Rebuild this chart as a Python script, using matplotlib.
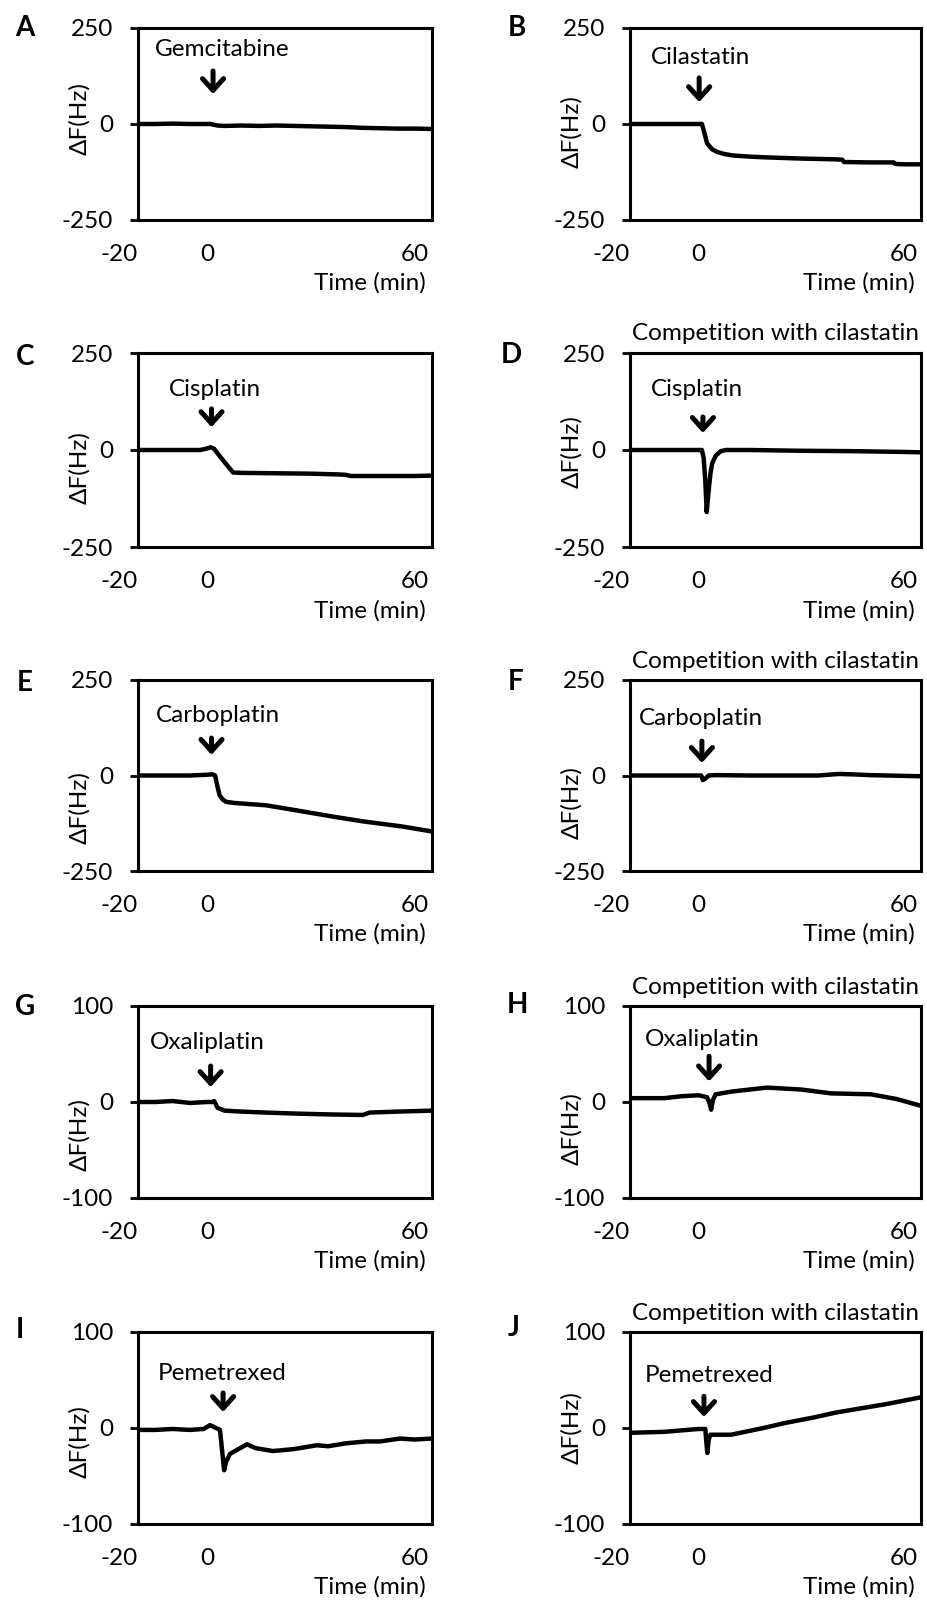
import matplotlib.pyplot as plt

plt.rcParams['font.family'] = ['Lato', 'DejaVu Sans']

# --- traces (time in min, delta F in Hz) ---
a_t = [-20, -15, -10, -5, 0, 1, 2, 3, 5, 10, 15, 20, 25, 30, 35, 40, 45, 50, 55, 60, 65]
a_df = [0, 0, 1, 0, 0, 0, -2, -4, -5, -4, -5, -4, -5, -6, -7, -8, -10, -11, -12, -12, -13]

b_t = [-20, -10, 0, 1, 1.5, 2.5, 4, 5.5, 7.5, 10, 15, 20, 30, 40, 42, 42.5, 50, 57, 57.5, 60, 65]
b_df = [0, 0, 0, 0, -15, -50, -66, -73, -78, -82, -85, -87, -90, -92, -93, -99, -100, -100, -104, -105, -105]

c_t = [-20, -10, -2, 0, 1, 2, 4, 6, 7.5, 10, 20, 30, 38, 40, 41.5, 50, 60, 65]
c_df = [0, 0, 0, 4, 7, 3, -20, -42, -58, -59, -60, -61, -63, -64, -67, -67, -67, -66]

d_t = [-20, -10, 0, 1, 1.5, 2, 2.4, 2.8, 3.5, 4, 5, 6.5, 8, 15, 30, 45, 60, 65]
d_df = [0, 0, 0, 0, -20, -80, -160, -120, -60, -35, -15, -3, 0, 0, -2, -3, -5, -6]

e_t = [-20, -10, -5, 0, 1.5, 2.3, 3, 3.6, 4.5, 5.5, 8, 17, 25, 36.6, 45, 56, 64.7]
e_df = [0, 0, 0, 2, 3, 0, -30, -52, -63, -69, -72, -78, -90, -108, -120, -133, -146]

f_t = [-20, -10, 0, 0.8, 1.3, 2, 3, 5, 15, 25, 35, 38, 41, 45, 50, 55, 60, 65]
f_df = [0, 0, 0, 0, -12, -8, 0, 1, 0, 0, 0, 2, 4, 3, 1, 0, -1, -2]

g_t = [-20, -15, -10, -5, 0, 1.5, 2, 3, 5, 10, 17, 25, 36, 45, 47, 55, 65]
g_df = [0, 0, 1, -1, 0, 0, 1, -6, -9, -10, -11, -12, -13, -13.5, -11, -10, -9]

h_t = [-20, -10, -5, 0, 2.5, 3.3, 3.7, 4.2, 5, 10, 20, 30, 38.7, 50.4, 58, 65]
h_df = [4, 4, 6, 7, 5, -2, -8, 2, 8, 11, 15, 13, 9, 8, 3, -4]

i_t = [-20, -15, -10, -5, -1, 0.8, 2, 3.7, 4.5, 4.9, 5.5, 6.6, 9, 11.5, 14, 19, 25, 31.7, 35, 40, 46, 50, 55.7, 60, 65]
i_df = [-2, -2, -1, -2, -1, 3, 1, -2, -30, -44, -35, -27, -22, -17, -21, -24, -22, -18, -19, -16, -14, -14, -11, -12, -11]

j_t = [-20, -10, 0, 2, 2.3, 2.6, 3.0, 3.5, 9.5, 19, 25, 33.7, 40, 48.3, 55, 65]
j_df = [-5, -4, -1, -1, -15, -26, -12, -7, -7, 0, 5, 11, 16, 21, 25, 32]

letters = ['A', 'B', 'C', 'D', 'E', 'F', 'G', 'H', 'I', 'J']
drugs = ['Gemcitabine', 'Cilastatin', 'Cisplatin', 'Cisplatin', 'Carboplatin',
         'Carboplatin', 'Oxaliplatin', 'Oxaliplatin', 'Pemetrexed', 'Pemetrexed']
competition = [False, False, False, True, False, True, False, True, False, True]
ymax = [250, 250, 250, 250, 250, 250, 100, 100, 100, 100]
traces = [(a_t, a_df), (b_t, b_df), (c_t, c_df), (d_t, d_df), (e_t, e_df),
          (f_t, f_df), (g_t, g_df), (h_t, h_df), (i_t, i_df), (j_t, j_df)]

# drug label (x, y) and arrow (x, top, tip) in data units
drug_pos = [(4.3, 193), (0.6, 172), (2.1, 155), (-0.4, 155), (3.0, 158),
            (0.6, 150), (0.1, 61.5), (1.0, 65), (4.3, 57), (3.1, 55)]
arrows = [(1.7, 138, 78), (0.2, 120, 57), (1.25, 106, 59), (1.3, 85, 44), (1.25, 98, 54),
          (1.0, 90, 33), (1.0, 37.5, 15.6), (3.1, 47.6, 21.5), (4.6, 36.5, 16.7), (1.6, 33, 11.5)]

# --- layout (pixels of the 928x1602 figure) ---
W, H = 928, 1602
col_left = [138, 630]
col_width = [294, 291]
row_top = [28, 353, 680, 1006, 1332]
row_bottom = [220, 547, 871, 1198, 1524]
letter_xy = [(25, 28), (517, 28), (25, 357), (511, 355), (25, 683),
             (516, 682), (25, 1007), (517, 1005), (20, 1330), (514, 1328)]
ylabel_y = [0.53, 0.46, 0.41, 0.49, 0.33, 0.36, 0.33, 0.36, 0.43, 0.50]
fs = 17.5

fig = plt.figure(figsize=(W / 100, H / 100), dpi=100)

for k in range(10):
    row, col = k // 2, k % 2
    l = col_left[col] / W
    w = col_width[col] / W
    b = 1 - row_bottom[row] / H
    h = (row_bottom[row] - row_top[row]) / H
    ax = fig.add_axes([l, b, w, h])

    t, df = traces[k]
    ax.plot(t, df, color='black', lw=3.2, solid_joinstyle='round')

    ax.set_xlim(-20, 65)
    ax.set_ylim(-ymax[k], ymax[k])
    ax.set_yticks([-ymax[k], 0, ymax[k]])
    ax.set_yticklabels([str(-ymax[k]), '0', str(ymax[k])])
    ax.set_xticks([-20, 0, 60])
    ax.set_xticklabels(['-20', '0', '60'])
    ax.get_xticklabels()[0].set_ha('right')
    ax.tick_params(axis='y', direction='out', length=6, width=2, pad=12, labelsize=fs)
    ax.tick_params(axis='x', length=0, pad=17, labelsize=fs)
    for s in ax.spines.values():
        s.set_linewidth(2.2)

    ax.set_ylabel('ΔF(Hz)', fontsize=fs)
    ax.yaxis.set_label_coords(-48 / col_width[col], ylabel_y[k])

    ax.text(1 - 6 / col_width[col], -63 / 192, 'Time (min)', transform=ax.transAxes,
            ha='right', va='center', fontsize=fs)

    ax.text(drug_pos[k][0], drug_pos[k][1], drugs[k], ha='center', va='center', fontsize=fs)
    ax_x, ax_top, ax_tip = arrows[k]
    ax.annotate('', xy=(ax_x, ax_tip), xytext=(ax_x, ax_top),
                arrowprops=dict(arrowstyle='->, head_width=0.38, head_length=0.42',
                                lw=3.6, color='black', shrinkA=0, shrinkB=0,
                                mutation_scale=20))

    if competition[k]:
        ax.text(0.5, 1 + 19 / 193, 'Competition with cilastatin', transform=ax.transAxes,
                ha='center', va='center', fontsize=fs)

    lx, ly = letter_xy[k]
    fig.text(lx / W, 1 - ly / H, letters[k], ha='center', va='center',
             fontsize=20, fontweight='bold')

fig.savefig('out.png', dpi=100)
